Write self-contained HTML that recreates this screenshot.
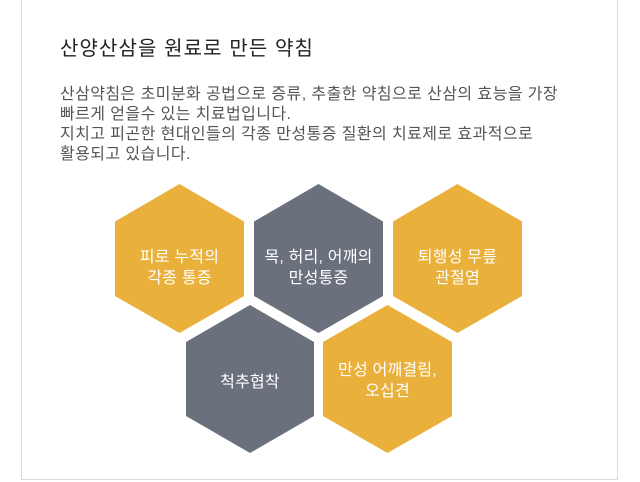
<!DOCTYPE html>
<html><head><meta charset="utf-8"><style>
body{margin:0;width:640px;height:482px;background:#fff;position:relative;overflow:hidden;font-family:"Liberation Sans","Noto Sans CJK KR",sans-serif}
.box{position:absolute;left:21px;top:-1px;width:597px;height:481px;border:1px solid #d9d9d9;box-sizing:border-box}
h1{position:absolute;left:60px;top:32px;margin:0;font-size:20px;font-weight:normal;color:#222;letter-spacing:1.1px;white-space:nowrap}
p{position:absolute;left:60px;top:85px;margin:0;font-size:16px;line-height:20px;color:#555;letter-spacing:0.42px;white-space:nowrap}
.t{position:absolute;color:#fff;font-size:16px;line-height:21px;text-align:center;width:130px;letter-spacing:0.2px}
</style></head><body>
<div class="box"></div>
<h1>산양산삼을 원료로 만든 약침</h1>
<p>산삼약침은 초미분화 공법으로 증류, 추출한 약침으로 산삼의 효능을 가장<br>빠르게 얻을수 있는 치료법입니다.<br>지치고 피곤한 현대인들의 각종 만성통증 질환의 치료제로 효과적으로<br>활용되고 있습니다.</p>
<svg width="640" height="482" style="position:absolute;left:0;top:0">
<polygon points="179.5,184 244,221.5 244,296 179.5,333 115,296 115,221.5" fill="#e9b03b"/>
<polygon points="318.5,184 383,221.5 383,296 318.5,333 254,296 254,221.5" fill="#6a707c"/>
<polygon points="457.5,184 522,221.5 522,296 457.5,333 393,296 393,221.5" fill="#e9b03b"/>
<polygon points="250,305 314,342 314,416 250,453 186,416 186,342" fill="#6a707c"/>
<polygon points="387.5,305 452,342 452,416 387.5,453 323,416 323,342" fill="#e9b03b"/>
</svg>
<div class="t" style="left:114.5px;top:247px">피로 누적의<br>각종 통증</div>
<div class="t" style="left:253.5px;top:247px">목, 허리, 어깨의<br>만성통증</div>
<div class="t" style="left:392.5px;top:247px">퇴행성 무릎<br>관절염</div>
<div class="t" style="left:185px;top:372px">척추협착</div>
<div class="t" style="left:322.5px;top:360px">만성 어깨결림,<br>오십견</div>
</body></html>
